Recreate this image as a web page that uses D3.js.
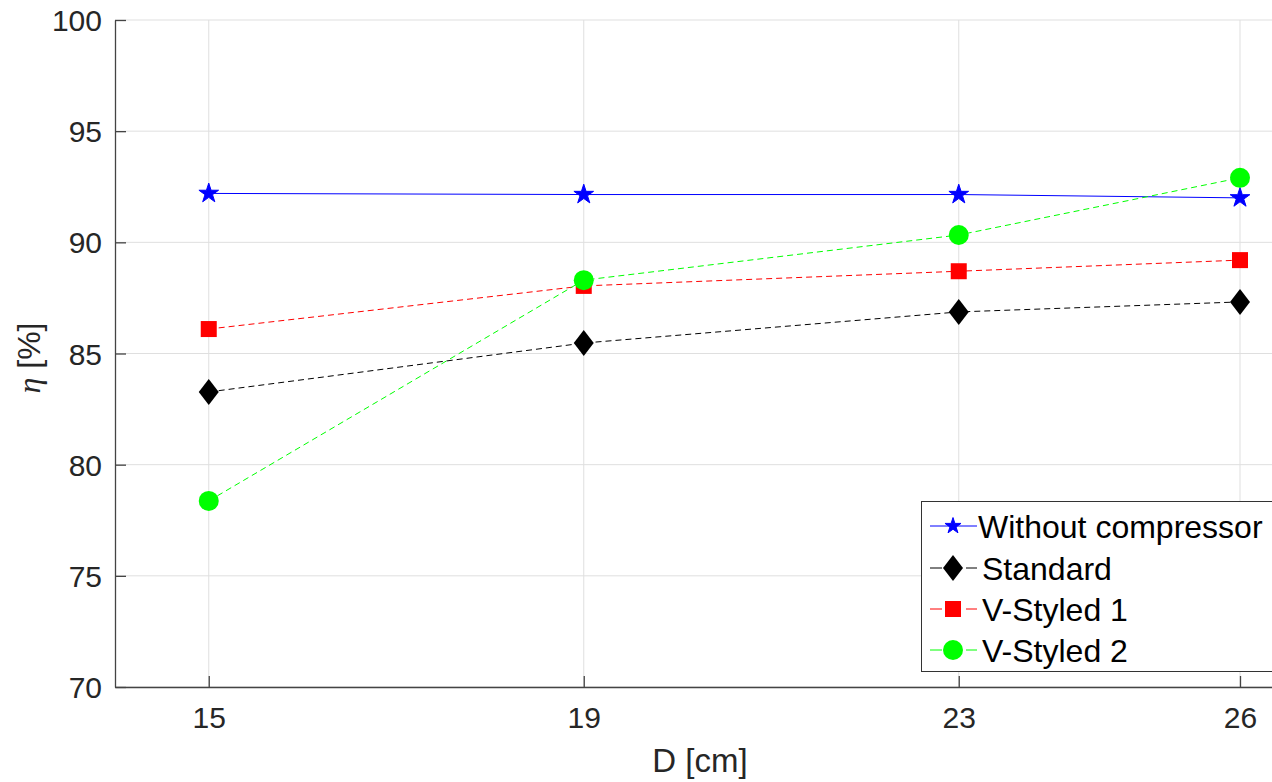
<!DOCTYPE html>
<html><head><meta charset="utf-8">
<script src="https://cdn.jsdelivr.net/npm/d3@7"></script>
<style>body{margin:0;background:#fff;}svg{display:block;font-family:Arial,"Liberation Sans",sans-serif;}</style>
</head><body>
<svg id="c" width="1272" height="782"></svg>
<script>
const categories = [15, 19, 23, 26];
const withoutCompressor = [92.2, 92.15, 92.15, 92.0];
const standard = [83.27, 85.47, 86.87, 87.32];
const vStyled1 = [86.1, 88.04, 88.7, 89.2];
const vStyled2 = [78.37, 88.3, 90.33, 92.9];
const yTicks = [70, 75, 80, 85, 90, 95, 100];
const seriesNames = ["Without compressor", "Standard", "V-Styled 1", "V-Styled 2"];

const series = [
  {name: seriesNames[0], values: withoutCompressor, color: "#0000ff", dash: null, marker: "star"},
  {name: seriesNames[1], values: standard, color: "#000000", dash: "6,4", marker: "diamond"},
  {name: seriesNames[2], values: vStyled1, color: "#ff0000", dash: "6,4", marker: "square"},
  {name: seriesNames[3], values: vStyled2, color: "#00ff00", dash: "6,4", marker: "circle"}
];

const svg = d3.select("#c");
const L = 115, T = 20, B = 687;
const x = d3.scaleLinear().domain([14, 27]).range([L, L + 13 * 93.75]);
const y = d3.scaleLinear().domain([70, 100]).range([B, T]);

// grid
svg.append("g").selectAll("line.gx").data(categories).join("line")
  .attr("x1", d => x(d)).attr("x2", d => x(d)).attr("y1", T).attr("y2", B)
  .attr("stroke", "#dfdfdf").attr("stroke-width", 1);
svg.append("g").selectAll("line.gy").data(yTicks).join("line")
  .attr("x1", L).attr("x2", 1272).attr("y1", d => y(d)).attr("y2", d => y(d))
  .attr("stroke", "#dfdfdf").attr("stroke-width", 1);

// axes
const xAxis = d3.axisBottom(x).tickValues(categories).tickSizeInner(-11).tickSizeOuter(0).tickPadding(20);
const gx = svg.append("g").attr("transform", `translate(0,${B})`).call(xAxis);
const yAxis = d3.axisLeft(y).tickValues(yTicks).tickSizeInner(-11).tickSizeOuter(0).tickPadding(13);
const gy = svg.append("g").attr("transform", `translate(${L},0)`).call(yAxis);
[gx, gy].forEach(g => {
  g.select(".domain").attr("stroke", "#444").attr("stroke-width", 1.3);
  g.selectAll(".tick line").attr("stroke", "#444").attr("stroke-width", 1.3);
  g.selectAll(".tick text").attr("fill", "#262626").attr("font-size", 30)
    .attr("font-family", "Arial, 'Liberation Sans', sans-serif");
});
gx.selectAll(".tick text").attr("dy", "0.71em");
gy.selectAll(".tick text").attr("dy", "0.35em");

// axis labels
svg.append("text").attr("x", 700).attr("y", 772).attr("text-anchor", "middle")
  .attr("font-size", 33).attr("fill", "#262626").text("D [cm]");
const yl = svg.append("text").attr("transform", "translate(40,358) rotate(-90)")
  .attr("text-anchor", "middle").attr("font-size", 32).attr("fill", "#262626");
yl.append("tspan").attr("font-family", "'Liberation Serif','DejaVu Serif',serif").attr("font-style", "italic").text("η");
yl.append("tspan").text(" [%]");

// markers
function drawMarker(g, type, color, cx, cy, small) {
  if (type === "star") {
    g.append("path").attr("d", d3.symbol(d3.symbolStar, small ? 80 : 120)()).attr("transform", `translate(${cx},${cy})`)
      .attr("fill", color).attr("stroke", color).attr("stroke-width", 1);
  } else if (type === "diamond") {
    g.append("path").attr("d", `M0,-13L10,0L0,13L-10,0Z`).attr("transform", `translate(${cx},${cy})`)
      .attr("fill", color);
  } else if (type === "square") {
    g.append("rect").attr("x", cx - 8).attr("y", cy - 8).attr("width", 16).attr("height", 16).attr("fill", color);
  } else if (type === "circle") {
    g.append("circle").attr("cx", cx).attr("cy", cy).attr("r", 10).attr("fill", color);
  }
}

const line = d3.line().x((d, i) => x(categories[i])).y(d => y(d));
series.forEach(s => {
  const g = svg.append("g");
  g.append("path").attr("d", line(s.values)).attr("fill", "none").attr("stroke", s.color)
    .attr("stroke-width", 1).attr("stroke-dasharray", s.dash);
  s.values.forEach((v, i) => drawMarker(g, s.marker, s.color, x(categories[i]), y(v), false));
});

// legend
const lg = svg.append("g");
lg.append("rect").attr("x", 921.5).attr("y", 501.5).attr("width", 360).attr("height", 170)
  .attr("fill", "#fff").attr("stroke", "#333").attr("stroke-width", 1);
const rowsY = [526, 568, 609, 650];
series.forEach((s, i) => {
  const ry = rowsY[i];
  lg.append("line").attr("x1", 930).attr("x2", 977).attr("y1", ry).attr("y2", ry)
    .attr("stroke", s.color).attr("stroke-width", 1).attr("stroke-dasharray", s.dash ? "12,6" : null);
  drawMarker(lg, s.marker, s.color, 953, ry, true);
  lg.append("text").attr("x", i === 0 ? 978 : 982).attr("y", ry).attr("dy", "0.36em")
    .attr("font-size", 32).attr("fill", "#000").text(s.name);
});
</script>
</body></html>
